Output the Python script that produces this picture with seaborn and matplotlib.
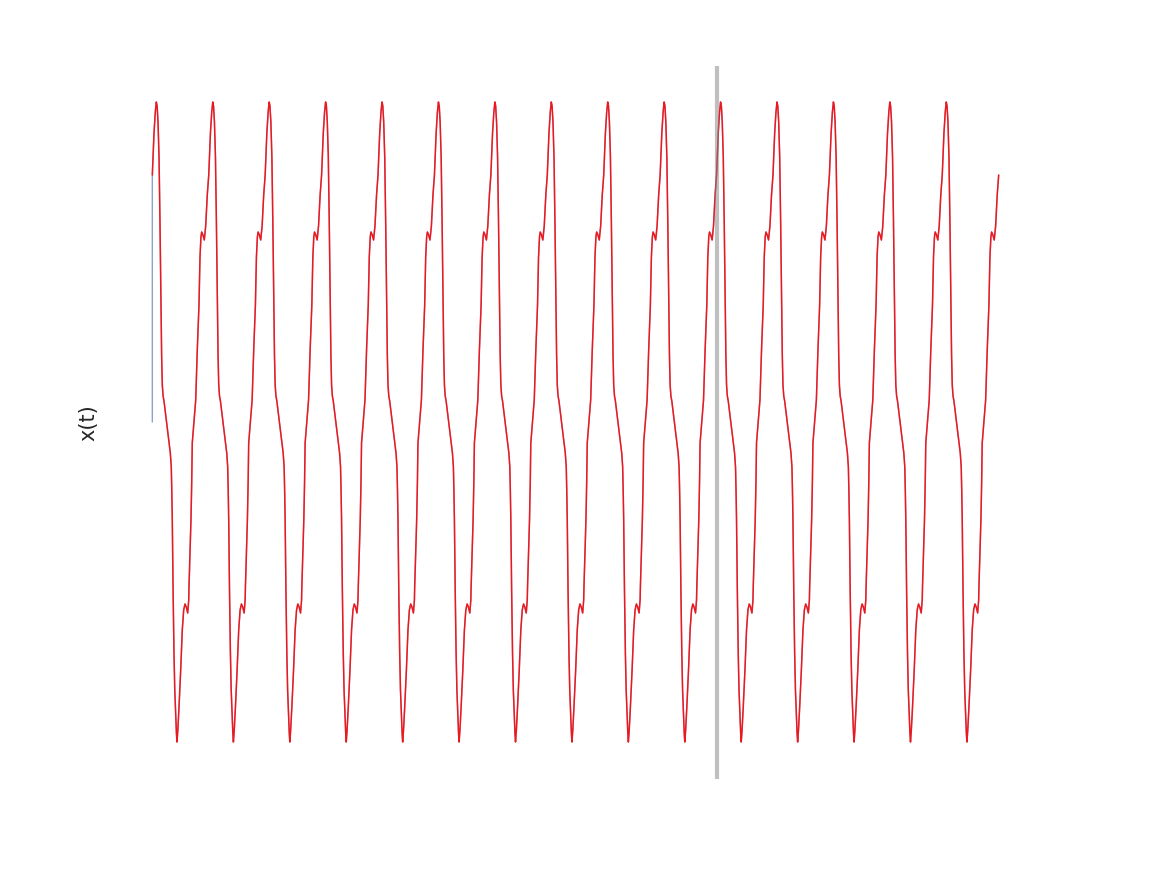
import numpy as np
import pandas as pd
import matplotlib
matplotlib.use("Agg")
import matplotlib.pyplot as plt
import seaborn as sns

# One oscillation cycle (phase as fraction of a period, value x)
cycle_phase = [0.000, 0.030, 0.053, 0.071, 0.085, 0.101, 0.119, 0.136, 0.154, 0.165,
               0.177, 0.191, 0.207, 0.248, 0.296, 0.319, 0.336, 0.345, 0.354, 0.368,
               0.384, 0.398, 0.414, 0.427, 0.437, 0.452, 0.473, 0.503, 0.531, 0.556,
               0.579, 0.602, 0.627, 0.645, 0.650, 0.668, 0.685, 0.698, 0.708, 0.726,
               0.769, 0.797, 0.827, 0.845, 0.862, 0.875, 0.898, 0.921, 0.946, 0.974]
cycle_value = [1.235, 1.445, 1.55, 1.60, 1.58, 1.50, 1.325, 0.995, 0.585, 0.335,
               0.185, 0.13, 0.105, 0.01, -0.105, -0.155, -0.225, -0.34, -0.49, -0.84,
               -1.155, -1.34, -1.465, -1.555, -1.60, -1.54, -1.425, -1.24, -1.04, -0.94,
               -0.91, -0.925, -0.955, -0.89, -0.825, -0.655, -0.49, -0.305, -0.105, -0.04,
               0.11, 0.36, 0.585, 0.825, 0.925, 0.95, 0.935, 0.91, 0.98, 1.135]
n_cycles = 15
end_value = 1.235
initial_true = 0.0
split_time = 10.0

t_pred = np.concatenate([k + np.array(cycle_phase) for k in range(n_cycles)] + [[float(n_cycles)]])
x_pred = np.concatenate([np.array(cycle_value) for _ in range(n_cycles)] + [[end_value]])
t_true = np.concatenate([[0.0], t_pred])
x_true = np.concatenate([[initial_true], x_pred])

sns.set_theme(style="white")
W, H = 1167, 875
fig = plt.figure(figsize=(W / 100, H / 100), dpi=100)
ax = fig.add_axes([110 / W, 1 - 779 / H, 931 / W, 713 / H])

sns.lineplot(x=t_true, y=x_true, ax=ax, color="C0", lw=1.0, alpha=0.65, sort=False, estimator=None)
sns.lineplot(x=t_pred, y=x_pred, ax=ax, color="red", lw=1.1, alpha=0.85, sort=False, estimator=None)
ax.axvline(split_time, color="grey", alpha=0.5, lw=3)

ax.set_xlim(-0.75, 15.75)
ax.set_ylim(-1.785, 1.78)
ax.set_xticks([])
ax.set_yticks([])
ax.set_xlabel("")
ax.set_ylabel("x(t)", fontsize=15, labelpad=8, color="#262626")
sns.despine(ax=ax, left=True, bottom=True)

fig.savefig("out.png", dpi=100)
